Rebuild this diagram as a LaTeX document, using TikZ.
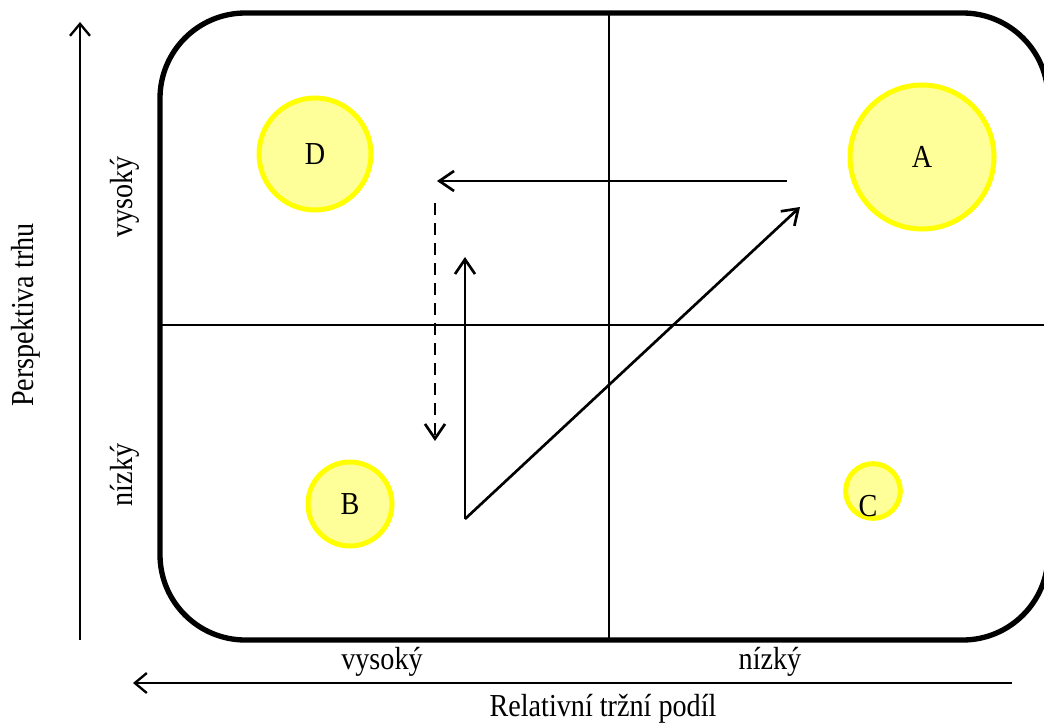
\documentclass[tikz,border=0pt]{standalone}
\usepackage{fontspec}
\setmainfont[FakeStretch=0.88]{Liberation Serif}
\usetikzlibrary{arrows.meta}
\definecolor{bubblefill}{RGB}{255,255,153}
\definecolor{bubbleline}{RGB}{255,255,0}

\begin{document}
\begin{tikzpicture}[x=0.75pt,y=-0.75pt,font=\fontsize{24}{28}\selectfont,
    bubble/.style={circle,draw=bubbleline,line width=3.75pt,fill=bubblefill,inner sep=0pt},
    move/.style={line width=2pt,-{Straight Barb[length=11pt,width=15pt,line width=2pt]}},
    axis/.style={line width=1.75pt,-{Straight Barb[length=9pt,width=15pt]}}]
    \useasboundingbox (0,0) rectangle (1044,725);
    \clip (0,0) rectangle (1044,725);
    % matrix frame and quadrants
    \draw[line width=4pt,rounded corners=64pt] (160,13) rectangle (1048,640);
    \draw[line width=1.4pt] (160,325) -- (1044,325);
    \draw[line width=1.4pt] (609,13) -- (609,640);
    % products
    \node[bubble,minimum size=84pt] (d) at (315,154) {D};
    \node[bubble,minimum size=108pt] (a) at (922,157) {A};
    \node[bubble,minimum size=63pt] (b) at (350,504) {B};
    \node[bubble,minimum size=41pt] (c) at (873,491) {};
    \node (clabel) at (868,506) {C};
    % movements
    \coordinate (h1) at (787,181);
    \coordinate (h2) at (437,181);
    \coordinate (v1) at (435,203);
    \coordinate (v2) at (435,441);
    \coordinate (s0) at (465,519);
    \coordinate (s1) at (465,257);
    \coordinate (s2) at (800,207);
    \draw[move] (h1) -- (h2);
    \draw[move,dash pattern=on 9pt off 6pt] (v1) -- (v2);
    \draw[move] (s0) -- (s1);
    \draw[move] (s0) -- (s2);
    % axes
    \coordinate (ybot) at (80,640);
    \coordinate (ytop) at (80,22);
    \coordinate (xright) at (1012,683);
    \coordinate (xleft) at (133,683);
    \draw[axis] (ybot) -- (ytop);
    \draw[axis] (xright) -- (xleft);
    \node[rotate=90] (yhigh) at (125,197) {vysoký};
    \node[rotate=90] (ylow) at (125,475) {nízký};
    \node[rotate=90] (ytitle) at (26,315) {Perspektiva trhu};
    \node (xhigh) at (382,662) {vysoký};
    \node (xlow) at (770,662) {nízký};
    \node (xtitle) at (603,709) {Relativní tržní podíl};
\end{tikzpicture}
\end{document}
